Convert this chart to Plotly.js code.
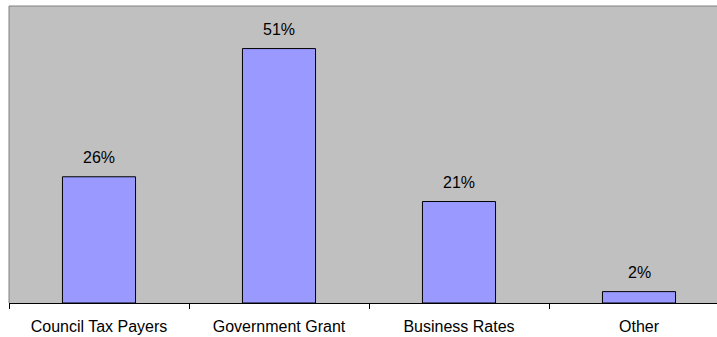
<!DOCTYPE html>
<html>
<head>
<meta charset="utf-8">
<script src="https://cdn.plot.ly/plotly-3.0.1.min.js"></script>
<style>
html,body{margin:0;padding:0;overflow:hidden;background:#fff;}
#chart{width:720px;height:337px;}
</style>
</head>
<body>
<div id="chart"></div>
<script>
const categories = ["Council Tax Payers", "Government Grant", "Business Rates", "Other"];
const values = [25.5, 51.4, 20.5, 2.3];
const labels = ["26%", "51%", "21%", "2%"];

const font = {family: "Liberation Sans, Arial, sans-serif", size: 16, color: "#000"};

const trace = {
  type: "bar",
  x: categories,
  y: values,
  marker: {color: "#9999FF", line: {color: "#000", width: 1}},
  hoverinfo: "none"
};

const annotations = categories.map((c, i) => ({
  x: c, y: values[i], xref: "x", yref: "y",
  text: labels[i], showarrow: false,
  yanchor: "middle", yshift: 19,
  font: font
}));

const layout = {
  width: 720, height: 337,
  margin: {l: 9, r: 0, t: 6, b: 34},
  paper_bgcolor: "#fff",
  plot_bgcolor: "#C0C0C0",
  bargap: 0.594,
  showlegend: false,
  font: font,
  xaxis: {
    type: "category",
    range: [-0.5, 3.45],
    showline: true, linecolor: "#000", linewidth: 1,
    ticks: "outside", tickson: "boundaries", ticklen: 5, tickcolor: "#000", tickwidth: 1,
    showgrid: false, zeroline: false,
    tickfont: font,
    ticklabelstandoff: 9
  },
  yaxis: {
    range: [0, 60],
    showticklabels: false, ticks: "", showgrid: false, zeroline: false, showline: false
  },
  shapes: [
    {type: "line", xref: "paper", yref: "paper", x0: 0, x1: 1, y0: 1, y1: 1,
     line: {color: "#808080", width: 1}, layer: "below"},
    {type: "line", xref: "paper", yref: "paper", x0: 0, x1: 0, y0: 0, y1: 1,
     line: {color: "#808080", width: 1}, layer: "below"}
  ],
  annotations: annotations
};

Plotly.newPlot("chart", [trace], layout, {staticPlot: true, displayModeBar: false});
</script>
</body>
</html>
